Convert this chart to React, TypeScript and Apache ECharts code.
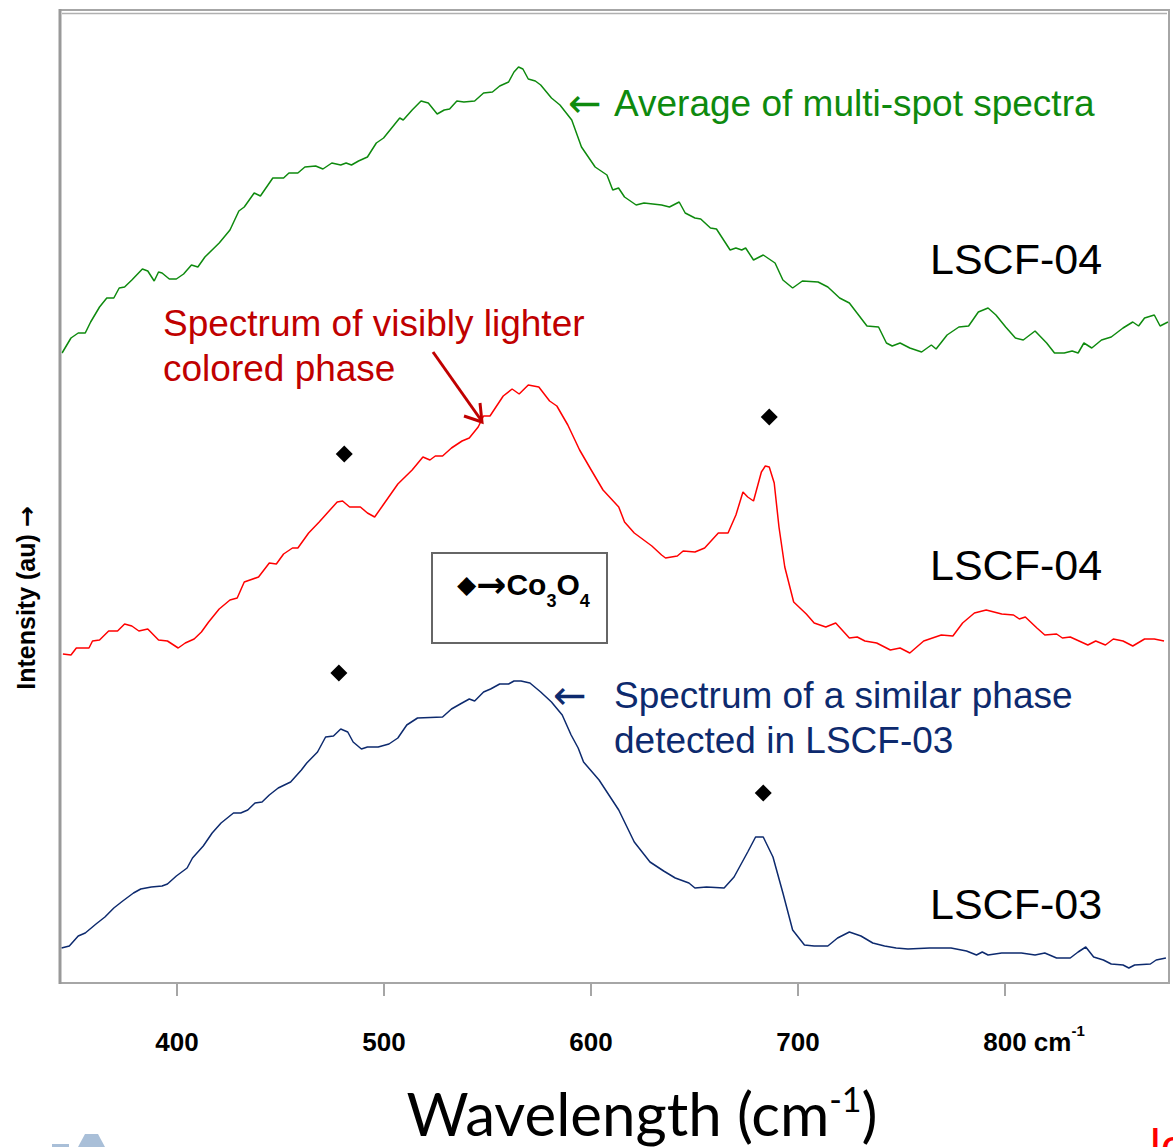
import React, { useEffect, useRef } from "react";
import * as echarts from "echarts";

// Wavenumber (cm-1) vs intensity (au)
const avgSpectrumLSCF04: [number, number][] = [
  [344.5,630],[348.8,645],[352.3,650],[355.7,650],[358.3,661],[362.6,676],[366.1,685],[369.5,685],[372.1,695],[374.7,696],
  [378.2,703],[383.3,714],[385.9,712],[389.0,702],[391.1,711],[392.8,710],[396.3,704],[399.7,704],[403.2,709],[407.0,718],
  [410.1,716],[413.5,726],[420.4,740],[425.6,753],[429.9,772],[432.5,776],[437.3,790],[440.3,787],[446.3,805],[451.5,805],
  [454.1,810],[458.4,810],[461.8,816],[467.0,817],[470.5,814],[474.8,820],[479.1,818],[481.7,820],[484.3,818],[487.7,822],
  [492.0,826],[496.3,840],[499.8,845],[504.1,856],[507.6,865],[509.3,863],[513.6,873],[517.9,882],[521.4,880],[525.7,869],
  [529.1,873],[531.7,874],[535.2,882],[538.6,881],[543.8,882],[548.1,890],[552.4,891],[555.9,897],[560.2,901],[562.8,911],
  [565.0,916],[567.1,914],[569.7,904],[573.1,902],[575.7,898],[580.9,885],[585.0,878],[590.7,863],[595.4,836],[602.0,816],
  [607.7,808],[610.5,793],[613.3,795],[616.2,786],[621.8,778],[625.6,780],[634.1,778],[637.9,776],[642.6,781],[645.5,770],
  [650.2,765],[653.0,764],[657.7,755],[660.6,754],[667.2,733],[670.0,735],[672.8,733],[674.7,735],[678.5,723],[683.2,728],
  [688.9,720],[692.7,703],[697.4,695],[702.1,702],[709.7,701],[714.4,696],[720.1,685],[724.8,680],[733.3,657],[738.9,656],
  [742.7,640],[745.5,637],[749.3,640],[754.0,635],[759.7,631],[764.4,638],[766.7,634],[772.0,648],[777.7,656],[782.4,657],
  [787.1,671],[791.8,675],[795.6,668],[800.3,656],[805.0,645],[808.8,643],[814.5,652],[820.1,640],[823.9,630],[828.6,630],
  [832.4,632],[835.3,630],[838.1,640],[841.9,635],[846.6,643],[851.3,646],[857.0,655],[861.7,661],[864.5,657],[867.4,665],
  [872.1,668],[874.9,657],[878.7,661]
];

const lighterPhaseLSCF04: [number, number][] = [
  [344.9,329],[348.8,328],[351.4,335],[357.5,335],[359.2,342],[362.6,343],[367.0,352],[371.3,352],[374.7,359],[378.2,357],
  [381.6,352],[385.9,354],[391.1,343],[395.4,342],[400.6,335],[404.0,340],[408.3,344],[411.8,351],[415.3,361],[420.4,374],
  [425.6,383],[429.1,385],[432.5,401],[439.4,406],[444.6,420],[448.0,419],[451.5,429],[455.8,435],[458.4,435],[463.6,450],
  [468.7,461],[473.9,473],[477.4,481],[480.0,482],[483.4,476],[488.6,476],[492.0,470],[495.5,466],[498.9,476],[506.7,499],
  [513.6,513],[518.8,526],[522.2,523],[524.8,527],[528.3,527],[532.6,535],[537.7,542],[541.2,545],[545.5,556],[548.1,567],
  [551.2,567],[557.6,587],[561.9,594],[565.3,589],[569.7,598],[574.8,596],[580.0,582],[583.5,577],[588.8,558],[594.5,533],
  [600.1,513],[605.8,493],[613.4,476],[616.2,461],[620.9,450],[629.4,437],[634.1,428],[636.0,425],[641.7,427],[644.5,432],
  [650.2,431],[654.9,435],[661.5,450],[666.2,450],[670.0,468],[673.4,491],[675.7,486],[678.5,482],[682.3,511],[684.2,517],
  [686.1,516],[688.5,500],[690.8,456],[693.6,416],[697.9,381],[704.0,369],[707.8,360],[713.4,356],[718.2,360],[724.8,345],
  [728.6,346],[732.3,342],[738.0,340],[744.6,333],[749.3,335],[754.0,330],[760.7,342],[769.2,348],[774.8,347],[779.5,360],
  [785.2,370],[790.9,373],[798.4,369],[804.1,368],[806.9,364],[809.8,366],[815.4,355],[819.2,348],[824.9,349],[827.7,345],
  [831.5,346],[840.0,338],[843.8,342],[848.5,338],[852.3,344],[857.0,342],[861.7,337],[867.4,344],[872.1,344],[876.8,342]
];

const similarPhaseLSCF03: [number, number][] = [
  [344.2,35],[348.0,37],[352.3,47],[355.7,50],[360.9,59],[365.2,66],[369.5,75],[373.8,82],[379.0,90],[382.5,94],
  [387.6,96],[392.8,97],[395.4,99],[399.7,107],[404.9,115],[407.5,125],[412.7,137],[417.0,150],[421.3,160],[427.3,170],
  [430.8,170],[434.2,173],[437.7,180],[441.1,181],[444.6,188],[448.9,195],[454.9,201],[460.1,213],[462.7,220],[467.9,231],
  [471.8,246],[475.6,247],[479.1,254],[482.5,251],[485.1,241],[489.1,234],[492.0,236],[497.2,236],[502.4,239],[506.7,245],
  [511.0,258],[516.2,265],[528.3,266],[532.6,274],[537.7,280],[541.2,284],[543.8,282],[548.1,291],[551.5,294],[555.9,299],
  [560.2,299],[562.8,302],[566.2,302],[570.5,300],[575.7,291],[580.9,281],[586.1,268],[590.4,248],[593.8,235],[596.4,221],
  [603.9,203],[613.4,173],[620.9,141],[628.5,121],[635.1,112],[640.7,105],[647.3,100],[650.2,95],[655.8,96],[664.3,95],
  [669.1,106],[675.7,131],[679.5,146],[683.2,146],[687.9,126],[692.7,90],[697.4,53],[703.1,38],[707.8,37],[714.4,37],
  [719.1,45],[724.8,51],[730.4,47],[736.1,40],[741.8,37],[747.4,35],[753.1,34],[763.5,35],[773.9,35],[781.4,32],
  [786.2,28],[789.0,31],[791.8,28],[798.4,30],[807.9,30],[814.5,28],[819.2,30],[824.9,25],[831.5,25],[835.3,31],
  [839.0,36],[842.8,26],[847.5,23],[851.3,19],[857.0,18],[859.8,15],[862.6,18],[870.2,19],[873.0,23],[877.7,25]
];

const co3o4Markers: [number, number][] = [
  [480.8, 529], [686.1, 566], [478.2, 310], [683.2, 190]
];

const xTickValues = [400, 500, 600, 700, 800];
const xMin = 343.5;
const xMax = 879.2;
const yMin = 0;
const yMax = 973;

const FONT = "'Liberation Sans', Arial, sans-serif";
const ARROWFONT = "'DejaVu Sans', sans-serif";
const GREEN = "#0e8a0e";
const RED = "#ff0000";
const DARKRED = "#c00000";
const NAVY = "#0d2a6e";

export default function App() {
  const ref = useRef<HTMLDivElement>(null);

  useEffect(() => {
    if (!ref.current) return;
    const chart = echarts.init(ref.current, undefined, { renderer: "svg" });

    const txt = (text: string, x: number, y: number, size: number, fill: string, extra: any = {}) => ({
      type: "text",
      x,
      y,
      z: 10,
      style: {
        text,
        fontSize: size,
        fontFamily: FONT,
        fill,
        align: "left",
        verticalAlign: "middle",
        ...extra,
      },
    });

    const option: any = {
      animation: false,
      backgroundColor: "#ffffff",
      textStyle: { fontFamily: FONT },
      grid: {
        left: 60,
        right: 4,
        top: 10,
        bottom: 164,
        show: true,
        borderColor: "#a6a6a6",
        borderWidth: 2,
        backgroundColor: "transparent",
      },
      xAxis: {
        type: "value",
        min: xMin,
        max: xMax,
        axisLine: { show: true, onZero: false, lineStyle: { color: "#a6a6a6", width: 2 } },
        axisTick: {
          show: true,
          customValues: xTickValues,
          length: 13,
          lineStyle: { color: "#a6a6a6", width: 2 },
        },
        axisLabel: {
          customValues: xTickValues,
          margin: 40,
          formatter: (v: number) =>
            v === 800 ? "{pad| }{n|800}{n| cm}{s|-1}" : "{n|" + v + "}",
          rich: {
            n: { fontSize: 26, fontWeight: "bold", color: "#000", fontFamily: FONT, lineHeight: 32, verticalAlign: "bottom" },
            s: { fontSize: 15, fontWeight: "bold", color: "#000", fontFamily: FONT, lineHeight: 20, verticalAlign: "top" },
            pad: { width: 58, fontSize: 26, lineHeight: 32 },
          },
        },
        splitLine: { show: false },
      },
      yAxis: {
        type: "value",
        min: yMin,
        max: yMax,
        axisLine: { show: false },
        axisTick: { show: false },
        axisLabel: { show: false },
        splitLine: { show: false },
      },
      series: [
        {
          name: "Average of multi-spot spectra",
          type: "line",
          data: avgSpectrumLSCF04,
          showSymbol: false,
          lineStyle: { color: GREEN, width: 1.5 },
          itemStyle: { color: GREEN },
        },
        {
          name: "Spectrum of visibly lighter colored phase",
          type: "line",
          data: lighterPhaseLSCF04,
          showSymbol: false,
          lineStyle: { color: RED, width: 1.5 },
          itemStyle: { color: RED },
        },
        {
          name: "Spectrum of a similar phase detected in LSCF-03",
          type: "line",
          data: similarPhaseLSCF03,
          showSymbol: false,
          lineStyle: { color: NAVY, width: 1.5 },
          itemStyle: { color: NAVY },
        },
        {
          name: "Co3O4",
          type: "scatter",
          data: co3o4Markers,
          symbol: "diamond",
          symbolSize: 17,
          itemStyle: { color: "#000", opacity: 1 },
        },
      ],
      graphic: [
        // double frame lines like the reference
        { type: "line", z: 5, shape: { x1: 62, y1: 13.5, x2: 1167, y2: 13.5 }, style: { stroke: "#b0b0b0", lineWidth: 1.5 } },
        { type: "line", z: 5, shape: { x1: 60, y1: 9, x2: 60, y2: 984 }, style: { stroke: "#999", lineWidth: 3 } },
        // annotations
        txt("←", 568, 103, 40, GREEN, { fontFamily: ARROWFONT }),
        txt("Average of multi-spot spectra", 614, 103, 37, GREEN),
        txt("LSCF-04", 930, 259, 43, "#000"),
        txt("Spectrum of visibly lighter", 163, 323, 37, DARKRED),
        txt("colored phase", 163, 368, 37, DARKRED),
        { type: "line", z: 10, shape: { x1: 433, y1: 352, x2: 481, y2: 420 }, style: { stroke: DARKRED, lineWidth: 3 } },
        { type: "polyline", z: 10, shape: { points: [[464, 416], [482, 422], [480, 403]] }, style: { stroke: DARKRED, lineWidth: 3, fill: null } },
        txt("LSCF-04", 930, 565, 43, "#000"),
        txt("←", 553, 695, 40, NAVY, { fontFamily: ARROWFONT }),
        txt("Spectrum of a similar phase", 614, 695, 37, NAVY),
        txt("detected in LSCF-03", 614, 740, 37, NAVY),
        txt("LSCF-03", 930, 904, 43, "#000"),
        // legend box
        { type: "rect", z: 9, shape: { x: 432, y: 553, width: 175, height: 90 }, style: { fill: "#fff", stroke: "#666", lineWidth: 2 } },
        {
          type: "text",
          x: 457,
          y: 558.5,
          z: 11,
          style: {
            text: "{d|◆}{r|→}{n|Co}{s|3}{n|O}{s|4}",
            align: "left",
            verticalAlign: "top",
            fill: "#000",
            rich: {
              d: { fontSize: 25, fontFamily: ARROWFONT, lineHeight: 30, verticalAlign: "middle", fill: "#000" },
              r: { fontSize: 36, fontWeight: "bold", fontFamily: ARROWFONT, lineHeight: 30, verticalAlign: "middle", fill: "#000" },
              n: { fontSize: 30, fontWeight: "bold", fontFamily: FONT, lineHeight: 30, verticalAlign: "middle", fill: "#000" },
              s: { fontSize: 18, fontWeight: "bold", fontFamily: FONT, lineHeight: 51, verticalAlign: "bottom", fill: "#000" },
            },
          },
        },
        // axis titles
        {
          type: "text",
          x: 26,
          y: 598,
          rotation: Math.PI / 2,
          z: 10,
          style: {
            text: "{t|Intensity (au) }{r|→}",
            align: "center",
            verticalAlign: "middle",
            fill: "#000",
            rich: {
              t: { fontSize: 25, fontWeight: "bold", fontFamily: FONT, fill: "#000", lineHeight: 28 },
              r: { fontSize: 25, fontWeight: "bold", fontFamily: ARROWFONT, fill: "#000", lineHeight: 28 },
            },
          },
        },
        {
          type: "text",
          x: 642,
          y: 1081,
          z: 10,
          style: {
            text: "{a|Wavelength (cm}{s|-1}{a|)}",
            align: "center",
            verticalAlign: "top",
            fill: "#000",
            rich: {
              a: { fontSize: 60, fontFamily: "Lato, 'Open Sans', sans-serif", lineHeight: 62, verticalAlign: "bottom", fill: "#000" },
              s: { fontSize: 34, fontFamily: "Lato, 'Open Sans', sans-serif", lineHeight: 36, verticalAlign: "top", fill: "#000" },
            },
          },
        },
        // cut-off fragments at the page bottom
        { type: "polygon", z: 10, shape: { points: [[78, 1147], [85, 1134], [98, 1134], [105, 1147]] }, style: { fill: "#a9bfd8" } },
        { type: "rect", z: 10, shape: { x: 52, y: 1144, width: 17, height: 3 }, style: { fill: "#a9bfd8" } },
        txt("lo", 1150, 1122, 48, "#ff0000", { verticalAlign: "top" }),
      ],
    };

    chart.setOption(option);
    return () => chart.dispose();
  }, []);

  return (
    <div
      ref={ref}
      style={{ position: "fixed", left: 0, top: 0, width: 1173, height: 1147, background: "#fff", overflow: "hidden" }}
    />
  );
}
